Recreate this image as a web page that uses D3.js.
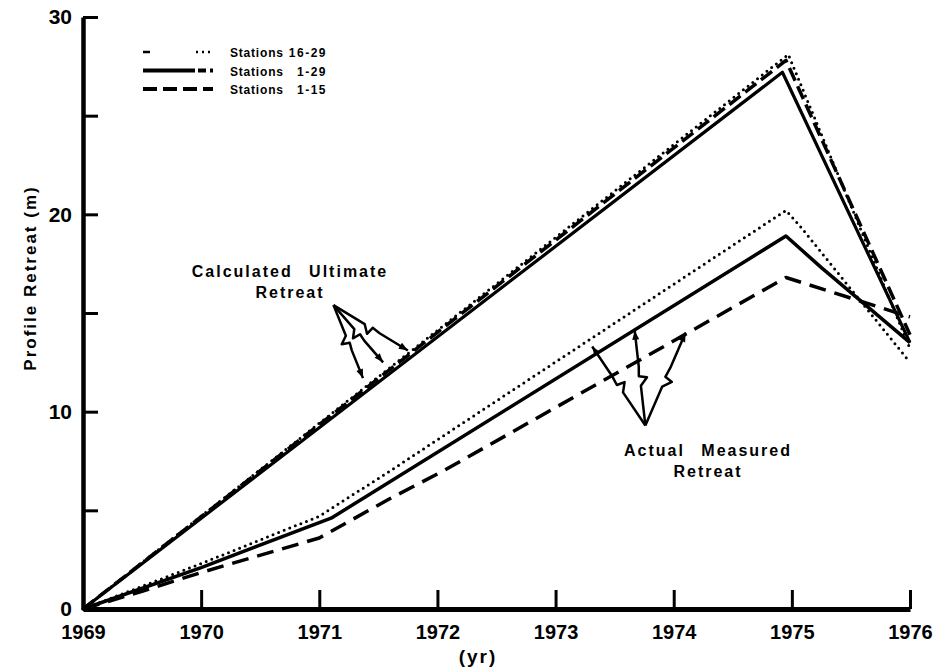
<html>
<head>
<script src="https://d3js.org/d3.v7.min.js"></script>
<style>
body { margin: 0; background: white; }
svg text { font-family: "Liberation Sans", Arial, sans-serif; font-weight: bold; fill: black; }
</style>
</head>
<body>
<svg width="938" height="667"></svg>
<script>
// ---- data ----
var years = [1969, 1970, 1971, 1972, 1973, 1974, 1975, 1976];
var yTicks = [0, 5, 10, 15, 20, 25, 30];
var yLabels = [0, 10, 20, 30];

// calculated ultimate retreat (upper group)
var ultSolid = [[1969, 0], [1974.92, 27.2], [1976, 13.5]];
var ultDashed = [[1969, 0], [1974.95, 27.8], [1976, 13.9]];
var ultDotted = [[1969, 0], [1974.97, 28.1], [1976, 13.2]];

// actual measured retreat (lower group)
var actSolid = [[1969, 0], [1970, 2.1], [1971.1, 4.6], [1974.95, 18.9], [1975.25, 17.3], [1976, 13.5]];
var actDotted = [[1969, 0], [1970, 2.3], [1971, 4.7], [1971.6, 7.0], [1974.95, 20.2], [1975.07, 19.4], [1976, 12.5]];
var actDashed = [[1969, 0], [1969.5, 0.9], [1970, 1.85], [1971, 3.6], [1971.6, 5.6], [1972.05, 7.0], [1974.95, 16.8], [1976, 14.8]];

var legendLabels = ["16-29", "1-29", "1-15"];

// arrow anchors [from, to] in data units
var ultArrowFrom = [1971.12, 15.4];
var ultArrowTo = [[1971.37, 11.7], [1971.54, 12.5], [1971.75, 13.1]];
var actArrowFrom = [1973.76, 9.3];
var actArrowTo = [[1973.31, 13.3], [1973.67, 14.1], [1974.10, 14.0]];

var svg = d3.select("svg");

var x = d3.scaleLinear().domain([1969, 1976]).range([83, 910]);
var y = d3.scaleLinear().domain([0, 30]).range([609, 17]);

var line = d3.line().x(function(d) { return x(d[0]); }).y(function(d) { return y(d[1]); });

// ---- series ----
function drawSeries(data, dash, w) {
  svg.append("path")
    .datum(data)
    .attr("d", line)
    .attr("fill", "none")
    .attr("stroke", "black")
    .attr("stroke-width", w)
    .attr("stroke-linejoin", "round")
    .attr("stroke-linecap", dash == "dot" ? "round" : "butt")
    .attr("stroke-dasharray", dash == "dot" ? "0,6" : dash);
}
drawSeries(ultDotted, "dot", 3);
drawSeries(ultDashed, "14,6", 3.5);
drawSeries(ultSolid, null, 3.2);
drawSeries(actDotted, "dot", 3);
drawSeries(actDashed, "17,9", 3.5);
drawSeries(actSolid, null, 3.5);

// ---- axes ----
var yAxis = svg.append("g")
  .attr("transform", "translate(" + x(1969) + ",0)")
  .call(d3.axisLeft(y).tickValues(yTicks).tickSize(-15).tickSizeOuter(0).tickPadding(11)
        .tickFormat(function(d) { return yLabels.indexOf(d) >= 0 ? d : ""; }));

var xAxis = svg.append("g")
  .attr("transform", "translate(0," + y(0) + ")")
  .call(d3.axisBottom(x).tickValues(years).tickSize(-19).tickSizeOuter(0).tickPadding(16)
        .tickFormat(d3.format("d")));

yAxis.select(".domain").attr("stroke-width", 4.5);
xAxis.select(".domain").attr("stroke-width", 5);
yAxis.selectAll(".tick line").attr("stroke-width", 3);
xAxis.selectAll(".tick line").attr("stroke-width", 3);
yAxis.selectAll("text").style("font-size", "21px");
xAxis.selectAll("text").style("font-size", "20px");

svg.append("text")
  .attr("transform", "translate(36," + 278 + ") rotate(-90)")
  .attr("text-anchor", "middle")
  .style("font-size", "17px")
  .style("letter-spacing", "2px")
  .text("Profile Retreat (m)");

svg.append("text")
  .attr("x", 478).attr("y", 663)
  .attr("text-anchor", "middle")
  .style("font-size", "19px")
  .style("letter-spacing", "2px")
  .text("(yr)");

// ---- legend ----
var legendDash = ["7,46,2,4,2,4,2,100", "52,3,8,4,3,100", "14,6"];
var legendW = [2.5, 4, 4];
legendLabels.forEach(function(lab, i) {
  var ly = 52 + i * 18.5;
  svg.append("line")
    .attr("x1", 143).attr("x2", 213).attr("y1", ly).attr("y2", ly)
    .attr("stroke", "black").attr("stroke-width", legendW[i])
    .attr("stroke-dasharray", legendDash[i]);
  svg.append("text")
    .attr("x", 230).attr("y", ly + 5)
    .style("font-size", "12px").style("letter-spacing", "0.8px")
    .text("Stations");
  svg.append("text")
    .attr("x", 327).attr("y", ly + 5)
    .attr("text-anchor", "end")
    .style("font-size", "12px").style("letter-spacing", "1.5px")
    .text(lab);
});

// ---- annotations ----
function note(lines, cx, cy) {
  lines.forEach(function(t, i) {
    svg.append("text")
      .attr("x", cx).attr("y", cy + i * 21)
      .attr("text-anchor", "middle")
      .style("font-size", "16px")
      .style("letter-spacing", "2px")
      .style("word-spacing", "10px")
      .text(t);
  });
}
note(["Calculated Ultimate", "Retreat"], 290, 277);
note(["Actual Measured", "Retreat"], 708, 456);

// lightning-style arrows
function bolt(from, to) {
  var x0 = x(from[0]), y0 = y(from[1]), x1 = x(to[0]), y1 = y(to[1]);
  var dx = x1 - x0, dy = y1 - y0, len = Math.sqrt(dx * dx + dy * dy);
  var ux = dx / len, uy = dy / len, nx = -uy, ny = ux;
  function p(t, o) { return [x0 + dx * t + nx * o, y0 + dy * t + ny * o]; }
  var pts = [p(0, 0), p(0.42, 0), p(0.5, 7), p(0.52, -1), p(0.62, 0), p(1, 0)];
  svg.append("path")
    .attr("d", d3.line()(pts))
    .attr("fill", "none").attr("stroke", "black")
    .attr("stroke-width", 2.5).attr("stroke-linejoin", "round");
  // head
  var h = 9, hw = 3.5;
  var head = [[x1, y1], [x1 - ux * h + nx * hw, y1 - uy * h + ny * hw], [x1 - ux * h - nx * hw, y1 - uy * h - ny * hw]];
  svg.append("path").attr("d", d3.line()(head) + "Z").attr("fill", "black");
}
ultArrowTo.forEach(function(t) { bolt(ultArrowFrom, t); });
actArrowTo.forEach(function(t) { bolt(actArrowFrom, t); });
</script>
</body>
</html>
